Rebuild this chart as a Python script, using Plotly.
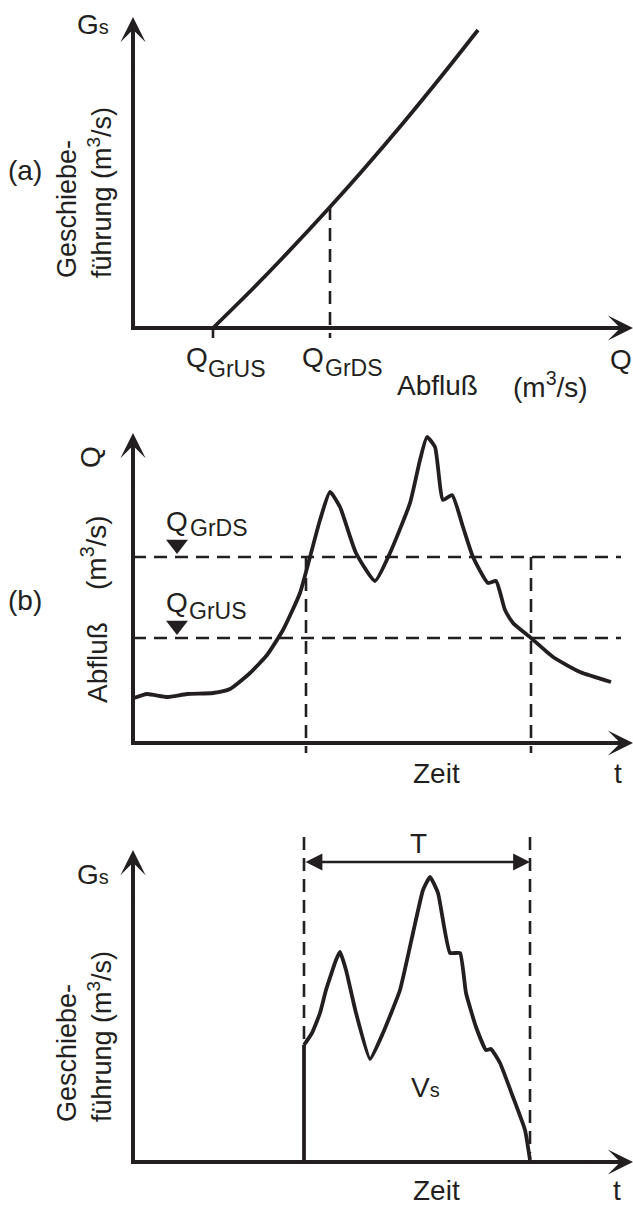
import plotly.graph_objects as go

W, H = 633, 1207
INK = '#231f20'
FONT = 'Liberation Sans, Arial, sans-serif'

# ---------------- data (arbitrary units) ----------------
# (a) bedload transport vs discharge
a_Q = [1.6, 2.4, 3.0, 3.94, 4.6, 5.42, 6.22, 6.9]
a_Gs = [0.0, 0.79, 1.41, 2.42, 3.16, 4.12, 5.1, 5.96]
a_Q_GrUS = 1.6
a_Q_GrDS = 3.94

# (b) discharge hydrograph
b_t = [0.02, 0.28, 0.68, 1.08, 1.6, 1.94, 2.34, 2.68, 3.0, 3.34, 3.54, 3.74, 3.94,
       4.14, 4.46, 4.84, 5.14, 5.54, 5.74, 5.88, 6.04, 6.2, 6.38, 6.6, 6.8, 7.1,
       7.26, 7.44, 7.6, 7.96, 8.4, 8.94, 9.56]
b_Q = [0.90, 0.98, 0.92, 0.98, 1.0, 1.08, 1.4, 1.76, 2.26, 3.0, 3.72, 4.46, 5.02,
       4.72, 3.8, 3.24, 3.8, 4.8, 5.66, 6.12, 5.92, 4.86, 4.96, 4.32, 3.72, 3.2,
       3.24, 2.66, 2.4, 2.1, 1.72, 1.42, 1.22]
b_Q_GrDS = 3.72
b_Q_GrUS = 2.1
b_t_start = 3.46
b_t_end = 7.96

# (c) bedload hydrograph
c_t = [3.42, 3.42, 3.58, 3.74, 3.86, 4.06, 4.14, 4.26, 4.46, 4.74, 5.0, 5.34, 5.6,
       5.8, 5.94, 6.1, 6.34, 6.54, 6.66, 6.86, 7.06, 7.16, 7.34, 7.6, 7.84, 7.94]
c_Gs = [0.0, 2.34, 2.58, 2.98, 3.44, 4.04, 4.2, 3.84, 2.98, 2.06, 2.58, 3.44, 4.58,
        5.44, 5.7, 5.38, 4.18, 4.18, 3.38, 2.7, 2.24, 2.26, 1.98, 1.3, 0.64, 0.04]
c_T_start = 3.42
c_T_end = 7.94
c_T_top = 6.5

# ---------------- figure ----------------
fig = go.Figure()

X_RANGE = [-2.66, 10.0]
panels = {
    # name: (y domain, y range)
    '': ([1 - 400 / H, 1.0], [-1.44, 6.56]),
    '2': ([1 - 800 / H, 1 - 400 / H], [-1.14, 6.86]),
    '3': ([0.0, 1 - 800 / H], [-0.9, 7.24]),
}
for k, (dom, rng) in panels.items():
    fig.update_layout(**{
        'xaxis' + k: dict(domain=[0, 1], range=X_RANGE, visible=False, fixedrange=True,
                          anchor='y' + k),
        'yaxis' + k: dict(domain=dom, range=rng, visible=False, fixedrange=True,
                          anchor='x' + k),
    })

AX_W = 4
CURVE_W = 3.8
DASH_W = 2.6
DASH = '13px,8px'


def line(xs, ys, k, width, dash=None, shape='linear', smoothing=None):
    ln = dict(color=INK, width=width, shape=shape)
    if dash:
        ln['dash'] = dash
    if smoothing is not None:
        ln['smoothing'] = smoothing
    fig.add_trace(go.Scatter(x=xs, y=ys, mode='lines', line=ln, hoverinfo='skip',
                             xaxis='x' + k, yaxis='y' + k))


ann = []


def arrowhead(k, x, y, ax, ay, head=3, size=1.05, width=AX_W):
    ann.append(dict(x=x, y=y, ax=ax, ay=ay, xref='x' + k, yref='y' + k,
                    axref='x' + k, ayref='y' + k, showarrow=True, arrowhead=head,
                    arrowsize=size, arrowwidth=width, arrowcolor=INK, text='',
                    standoff=0))


def label(text, px, py, size=28, angle=0, align='center'):
    ann.append(dict(text=text, x=px / W, y=1 - py / H, xref='paper', yref='paper',
                    showarrow=False, textangle=angle, align=align,
                    xanchor='center', yanchor='middle',
                    font=dict(family=FONT, size=size, color=INK)))


# axes (L shape + arrowheads)
axis_tips = {'': 6.22, '2': 6.2, '3': 6.24}
for k, ytip in axis_tips.items():
    line([0, 0, 9.5], [ytip - 0.4, 0, 0], k, AX_W)
    arrowhead(k, 0, ytip, 0, ytip - 1.0)
    arrowhead(k, 10.0, 0, 9.0, 0)

# ---- panel (a)
line(a_Q, a_Gs, '', CURVE_W, shape='spline', smoothing=0.8)
line([a_Q_GrUS, a_Q_GrUS], [0, -0.2], '', 2.6)
line([a_Q_GrDS, a_Q_GrDS], [a_Gs[a_Q.index(a_Q_GrDS)], -0.2], '', DASH_W, dash=DASH)

label('G<span style="font-size:20px">s</span>', 93, 24)
label('(a)', 25, 170)
label('Geschiebe-<br>führung (m<sup>3</sup>/s)', 85, 193, size=27, angle=-90, align='left')
label('Q', 197, 357)
label('GrUS', 237, 369, size=23)
label('Q', 313, 357)
label('GrDS', 354, 368, size=23)
label('Abfluß', 437, 385)
label('(m<sup>3</sup>/s)', 550, 385)
label('Q', 621, 359)

# ---- panel (b)
line(b_t, b_Q, '2', CURVE_W, shape='spline', smoothing=0.5)
line([0, 9.76], [b_Q_GrDS, b_Q_GrDS], '2', DASH_W, dash=DASH)
line([0, 9.76], [b_Q_GrUS, b_Q_GrUS], '2', DASH_W, dash=DASH)
line([b_t_start, b_t_start], [b_Q_GrDS, -0.2], '2', DASH_W, dash=DASH)
line([b_t_end, b_t_end], [b_Q_GrDS, -0.2], '2', DASH_W, dash=DASH)
tri_off = 12.5 / 50
fig.add_trace(go.Scatter(x=[0.88, 0.88], y=[b_Q_GrDS + tri_off, b_Q_GrUS + tri_off],
                         mode='markers', marker=dict(symbol='triangle-down', size=19,
                                                     color=INK), hoverinfo='skip',
                         xaxis='x2', yaxis='y2'))

label('Q', 91, 457, angle=-90)
label('(m<sup>3</sup>/s)', 94, 552, angle=-90)
label('Abfluß', 97, 663, angle=-90)
label('(b)', 25, 600)
label('Q', 177, 521)
label('GrDS', 219, 528, size=23)
label('Q', 177, 602)
label('GrUS', 218, 611, size=23)
label('Zeit', 436, 773)
label('t', 618, 773)

# ---- panel (c)
line(c_t[:2], c_Gs[:2], '3', CURVE_W)
line(c_t[1:], c_Gs[1:], '3', CURVE_W, shape='spline', smoothing=0.4)
line([c_T_start, c_T_start], [c_T_top, c_Gs[1]], '3', DASH_W, dash=DASH)
line([c_T_end, c_T_end], [c_T_top, 0.18], '3', DASH_W, dash=DASH)
ann.append(dict(x=c_T_end, y=6.0, ax=c_T_start, ay=6.0, xref='x3', yref='y3',
                axref='x3', ayref='y3', showarrow=True, arrowside='end+start',
                arrowhead=2, startarrowhead=2, arrowsize=1.3, startarrowsize=1.3,
                arrowwidth=2.6, arrowcolor=INK, text='', standoff=0, startstandoff=0))

label('G<span style="font-size:20px">s</span>', 93, 874)
label('Geschiebe-<br>führung (m<sup>3</sup>/s)', 84, 1037, size=27, angle=-90, align='left')
label('T', 418, 843)
label('V<span style="font-size:20px">s</span>', 425, 1087)
label('Zeit', 436, 1190)
label('t', 617, 1190)

fig.update_layout(width=W, height=H, margin=dict(l=0, r=0, t=0, b=0),
                  paper_bgcolor='white', plot_bgcolor='white', showlegend=False,
                  annotations=ann)

fig.write_html('out.html', config={'displayModeBar': False},
               post_script="document.body.style.margin='0';"
                           "document.body.style.overflow='hidden';")
